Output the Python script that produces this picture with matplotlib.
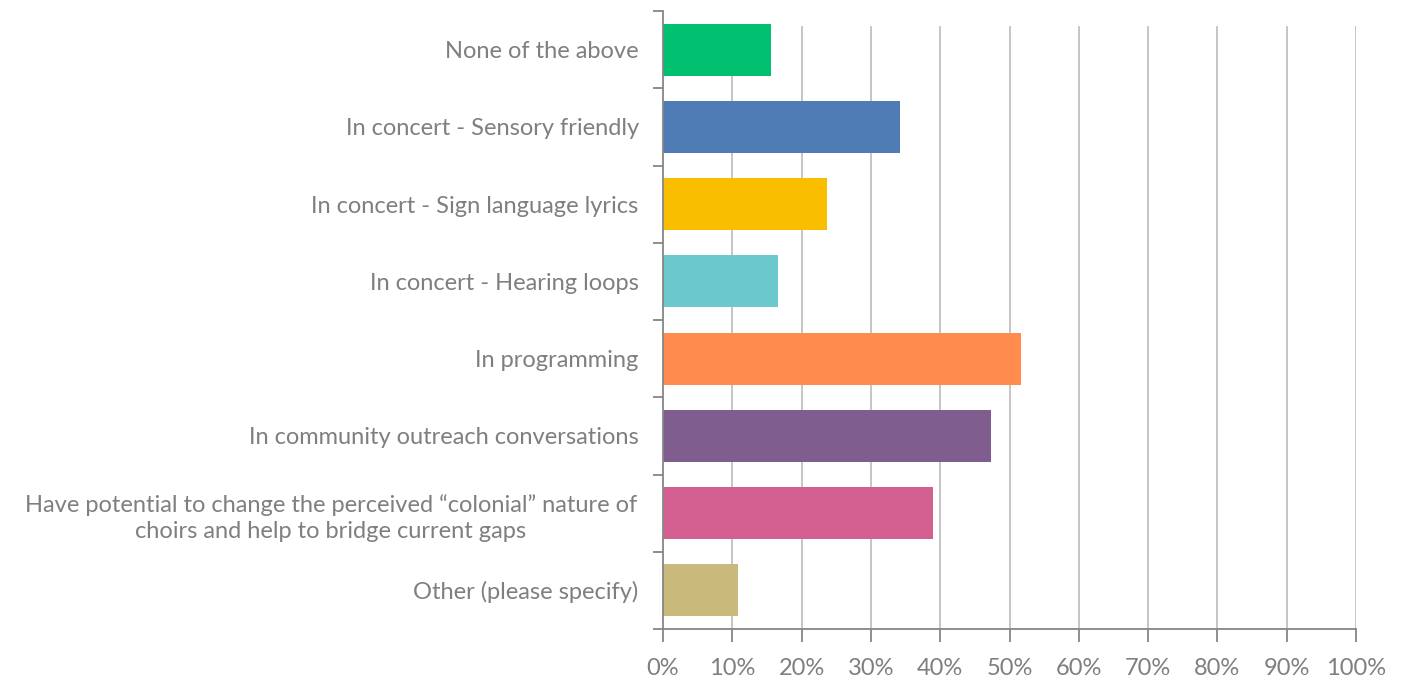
import matplotlib
matplotlib.use("Agg")
import matplotlib.pyplot as plt
from matplotlib.ticker import PercentFormatter

categories = [
    "None of the above",
    "In concert - Sensory friendly",
    "In concert - Sign language lyrics",
    "In concert - Hearing loops",
    "In programming",
    "In community outreach conversations",
    "Have potential to change the perceived \u201ccolonial\u201d nature of\nchoirs and help to bridge current gaps",
    "Other (please specify)",
]
values = [15.6, 34.2, 23.6, 16.6, 51.7, 47.3, 38.9, 10.8]
colors = ["#00BF6F", "#507CB6", "#F9BE00", "#6BC8CD", "#FF8B4F",
          "#7F5E8F", "#D25F90", "#C9B97A"]
x_ticks = [0, 10, 20, 30, 40, 50, 60, 70, 80, 90, 100]

text_color = "#7F7F7F"
plt.rcParams["font.family"] = ["Lato", "DejaVu Sans"]

fig = plt.figure(figsize=(14.03, 6.8), dpi=100)
ax = fig.add_axes([663 / 1403, 1 - 629 / 680, (1356 - 663) / 1403, (629 - 11) / 680])

n = len(categories)
ypos = list(range(n))
for x in x_ticks[1:]:
    ax.axvline(x, ymin=0, ymax=(629 - 27) / (629 - 11), color="#C0C0C0", lw=1.3, zorder=0)
ax.barh(ypos, values, height=0.67, color=colors, zorder=2)

ax.set_ylim(n - 0.5, -0.5)
ax.set_xlim(0, 100)
ax.set_xticks(x_ticks)
ax.xaxis.set_major_formatter(PercentFormatter(decimals=0))
ax.set_yticks(ypos)
ax.set_yticklabels(categories, multialignment="center", linespacing=1.3)
ax.set_yticks([i - 0.5 for i in range(n + 1)], minor=True)
ax.tick_params(axis="y", which="major", length=0, pad=0)
ax.tick_params(axis="y", which="minor", length=7, width=1.3, color="#868686")
ax.tick_params(axis="x", length=9, width=1.3, color="#868686", labelcolor=text_color,
               labelsize=17, pad=12)
ax.tick_params(axis="y", labelcolor=text_color, labelsize=17)

# right-align single-line labels, center the wrapped one
for lab in ax.get_yticklabels():
    lab.set_horizontalalignment("right")
    lab.set_x(-0.035)
ax.get_yticklabels()[6].set_horizontalalignment("center")
ax.get_yticklabels()[6].set_x(-0.479)

for side in ("top", "right"):
    ax.spines[side].set_visible(False)
for side in ("left", "bottom"):
    ax.spines[side].set_color("#868686")
    ax.spines[side].set_linewidth(1.3)

fig.savefig("out.png", dpi=100, facecolor="white")
